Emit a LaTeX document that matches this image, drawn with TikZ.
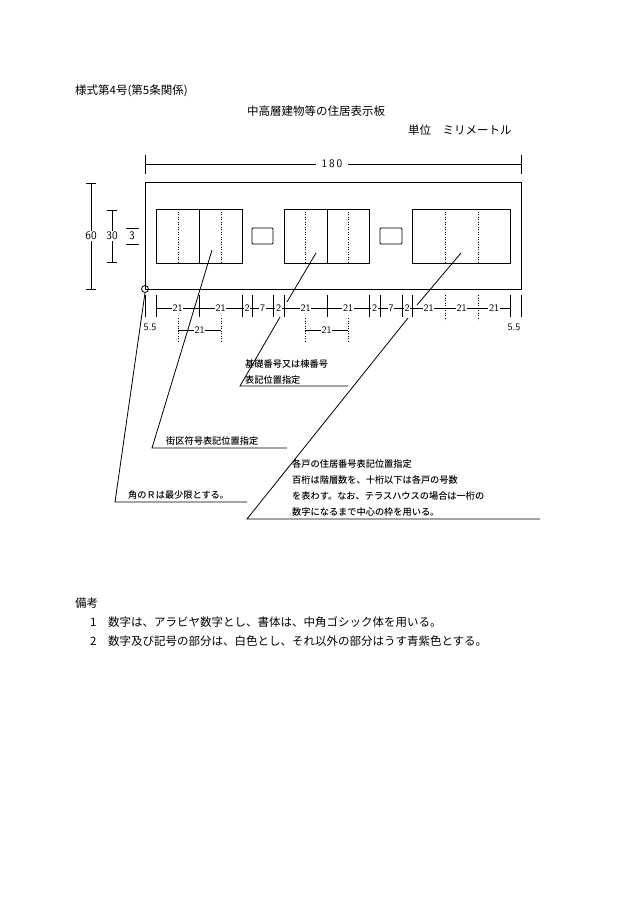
\documentclass[tikz,border=0pt]{standalone}
\usepackage{fontspec}
\setmainfont{Liberation Serif}
\newfontfamily\jp{Noto Sans CJK JP}
\newfontfamily\jpb{Noto Sans CJK JP Medium}
\usetikzlibrary{positioning}

\tikzset{
  dimline/.style={line width=0.8pt},
  dimlbl/.style={fill=white,inner sep=0.6pt,font=\sffamily\fontsize{10}{10}\selectfont},
  bigdim/.style={dimlbl,font=\sffamily\fontsize{11.5}{11.5}\selectfont},
  leader/.style={line width=0.8pt},
  note/.style={anchor=west,inner sep=0pt,font=\jpb\fontsize{9.2}{16}\selectfont,align=left},
  txt/.style={anchor=west,inner sep=0pt,font=\jp\fontsize{11.5}{13}\selectfont},
}

\begin{document}
\begin{tikzpicture}[x=1pt,y=-1pt]
  \useasboundingbox (0,0) rectangle (630,916);
  % headings
  \node[txt] (form) at (75,91) {様式第4号(第5条関係)};
  \node[txt,anchor=center] (title) at (316,111) {中高層建物等の住居表示板};
  \node[txt] (unit) at (408,130) {単位\quad ミリメートル};
  % board
  \draw[line width=0.9pt] (145,182) rectangle (521,289);
  \draw[line width=0.9pt] (156,209) rectangle (242,263) (199,209) -- (199,263);
  \draw[line width=0.9pt] (284,209) rectangle (369,263) (327,209) -- (327,263);
  \draw[line width=0.9pt] (412,209) rectangle (510,263);
  \draw[line width=0.9pt,rounded corners=1pt] (252,228) rectangle (273,244) (380,228) rectangle (402,244);
  \foreach \x in {178,221,305,348,445,478}
    \draw[dotted,line width=0.5pt] (\x,209) -- (\x,263);
  \node[circle,draw,line width=0.8pt,minimum size=7pt,inner sep=0pt] (corner) at (145,289) {};
  % overall dimensions
  \draw[dimline] (145,155) -- (145,174) (521,155) -- (521,174) (145,164) -- (521,164);
  \node[bigdim,inner xsep=6pt] (w) at (332,164) {1\,8\,0};
  \draw[dimline] (91,183) -- (91,289) (86,183) -- (96,183) (86,289) -- (96,289);
  \node[bigdim] (h) at (91,236) {60};
  \draw[dimline] (112,210) -- (112,262) (107,210) -- (117,210) (107,262) -- (117,262);
  \node[bigdim] (hi) at (112,236) {30};
  \draw[dimline] (126,228) -- (139,228) (126,244) -- (139,244);
  \node[bigdim] (t) at (132,236) {3};
  % bottom dimension chain
  \draw[dimline] (156,308) -- (510,308);
  \foreach \x in {145,156,199,242,252,273,284,327,369,380,402,412,510,521}
    \draw[dimline] (\x,295) -- (\x,317);
  \foreach \x in {445,478}
    \draw[dotted,line width=0.5pt] (\x,295) -- (\x,320);
  \foreach \a/\b/\l in {156/199/21,199/242/21,242/252/2,252/273/7,273/284/2,284/327/21,327/369/21,
      369/380/2,380/402/7,402/412/2,412/445/21,445/478/21,478/510/21}
    \node[dimlbl] at ({(\a+\b)/2},308) {\l};
  \node[dimlbl] (ml) at (150,327) {5.5};
  \node[dimlbl] (mr) at (514,327) {5.5};
  \foreach \a/\b in {178/221,305/348} {
    \draw[dotted,line width=0.5pt] (\a,318) -- (\a,341) (\b,318) -- (\b,341);
    \draw[dimline] (\a,330) -- (\b,330);
    \node[dimlbl] at ({(\a+\b)/2},330) {21};
  }
  % leaders and notes
  \draw[leader] (212,250) -- (152,448) -- (287,448);
  \node[note,anchor=south west] (block) at (166,446) {街区符号表記位置指定};
  \draw[leader] (316,253) -- (287,302);
  \draw[leader] (280,317) -- (240,386) -- (348,386);
  \node[note,anchor=south west] (bldg) at (245,385) {基礎番号又は棟番号\\表記位置指定};
  \draw[leader] (461,253) -- (417,305);
  \draw[leader] (408,318) -- (247,519) -- (540,519);
  \node[note,anchor=south west] (house) at (292,517) {各戸の住居番号表記位置指定\\百桁は階層数を、十桁以下は各戸の号数\\を表わす。なお、テラスハウスの場合は一桁の\\数字になるまで中心の枠を用いる。};
  \draw[leader] (corner.south) -- (115,502) -- (247,502);
  \node[note,anchor=south west] (round) at (128,500) {角のＲは最少限とする。};
  % remarks
  \node[txt] (rem) at (75,603) {備考};
  \node[txt] (r1) at (90,622) {1\quad 数字は、アラビヤ数字とし、書体は、中角ゴシック体を用いる。};
  \node[txt] (r2) at (90,641) {2\quad 数字及び記号の部分は、白色とし、それ以外の部分はうす青紫色とする。};
\end{tikzpicture}
\end{document}
